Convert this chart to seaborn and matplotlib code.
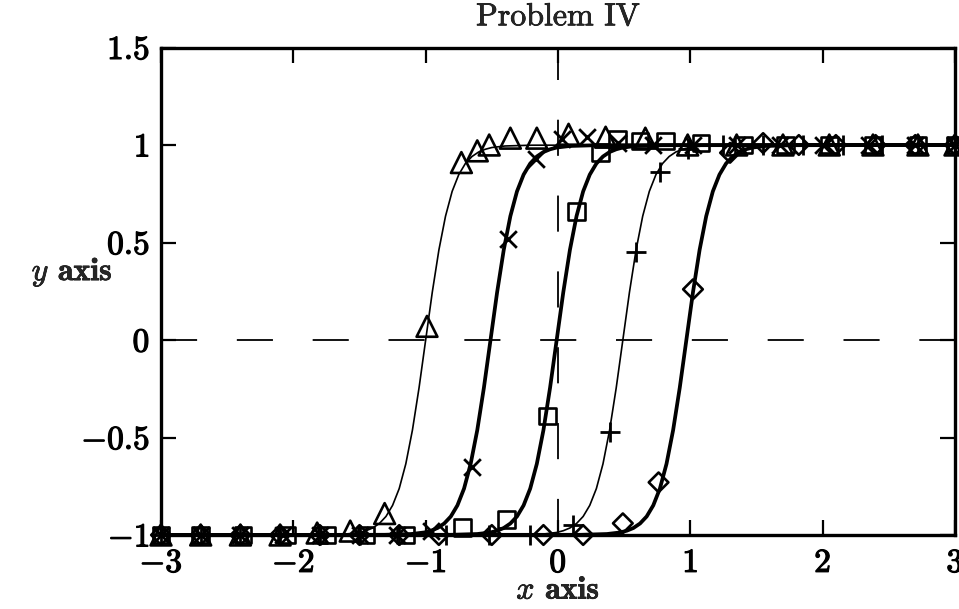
import matplotlib
matplotlib.use("Agg")
import matplotlib.pyplot as plt
import matplotlib.patheffects as pe
import pandas as pd
import seaborn as sns

# Exact-solution profile values shared by every front (y at each curve x below)
curve_y = [-1, -0.999, -0.995, -0.987, -0.978, -0.964, -0.941, -0.905, -0.848,
           -0.762, -0.635, -0.462, -0.245, 0, 0.245, 0.462, 0.635, 0.762,
           0.848, 0.905, 0.941, 0.964, 0.978, 0.987, 0.995, 0.999, 1]

# Curve abscissae for each front
tri_curve_x = [-3, -1.8, -1.6, -1.5, -1.45, -1.4, -1.35, -1.3, -1.25, -1.2, -1.15,
               -1.1, -1.05, -1.0, -0.95, -0.9, -0.85, -0.8, -0.75, -0.7, -0.65,
               -0.6, -0.55, -0.5, -0.4, -0.2, 3]
x_curve_x = [-3, -1.31, -1.11, -1.01, -0.96, -0.91, -0.86, -0.81, -0.76, -0.71,
             -0.66, -0.61, -0.56, -0.51, -0.46, -0.41, -0.36, -0.31, -0.26, -0.21,
             -0.16, -0.11, -0.06, -0.01, 0.09, 0.29, 3]
sq_curve_x = [-3, -0.81, -0.61, -0.51, -0.46, -0.41, -0.36, -0.31, -0.26, -0.21,
              -0.16, -0.11, -0.06, -0.01, 0.04, 0.09, 0.14, 0.19, 0.24, 0.29,
              0.34, 0.39, 0.44, 0.49, 0.59, 0.79, 3]
plus_curve_x = [-3, -0.31, -0.11, -0.01, 0.04, 0.09, 0.14, 0.19, 0.24, 0.29, 0.34,
                0.39, 0.44, 0.49, 0.54, 0.59, 0.64, 0.69, 0.74, 0.79, 0.84, 0.89,
                0.94, 0.99, 1.09, 1.29, 3]
dia_curve_x = [-3, 0.17, 0.37, 0.47, 0.52, 0.57, 0.62, 0.67, 0.72, 0.77, 0.82,
               0.87, 0.92, 0.97, 1.02, 1.07, 1.12, 1.17, 1.22, 1.27, 1.32, 1.37,
               1.42, 1.47, 1.57, 1.77, 3]

# Numerical solution nodes for each front
tri_x = [-3.0, -2.7, -2.4, -2.1, -1.82, -1.57, -1.31, -0.99, -0.73, -0.61, -0.52,
         -0.36, -0.16, 0.08, 0.36, 0.66, 0.98, 1.35, 1.7, 2.05, 2.38, 2.72, 3.0]
tri_y = [-1.0, -1.0, -1.0, -1.0, -0.99, -0.98, -0.89, 0.07, 0.91, 0.97, 1.0,
         1.035, 1.035, 1.055, 1.04, 1.035, 1.0, 1.0, 1.0, 1.0, 1.0, 1.0, 1.0]

x_x = [-3.0, -2.7, -2.4, -2.08, -1.8, -1.5, -1.22, -0.96, -0.65, -0.38, -0.17,
       0.03, 0.22, 0.45, 0.72, 1.02, 1.35, 1.68, 2.0, 2.35, 2.7, 3.0]
x_y = [-1.0, -1.0, -1.0, -1.0, -1.0, -1.0, -1.0, -0.98, -0.65, 0.52, 0.93,
       1.03, 1.04, 1.01, 1.0, 1.0, 1.0, 1.0, 1.0, 1.0, 1.0, 1.0]

sq_x = [-3.0, -2.7, -2.38, -2.05, -1.75, -1.45, -1.15, -0.72, -0.39, -0.08, 0.14,
        0.32, 0.45, 0.62, 0.81, 1.08, 1.4, 1.72, 2.05, 2.38, 2.72, 3.0]
sq_y = [-1.0, -1.0, -1.0, -1.0, -1.0, -1.0, -1.0, -0.96, -0.92, -0.39, 0.66,
        0.96, 1.03, 1.02, 1.02, 1.01, 1.0, 1.0, 1.0, 1.0, 1.0, 1.0]

plus_x = [-3.0, -2.7, -2.4, -2.1, -1.8, -1.5, -1.2, -0.85, -0.52, -0.21, 0.11,
          0.39, 0.59, 0.77, 0.98, 1.25, 1.55, 1.85, 2.15, 2.45, 2.72, 3.0]
plus_y = [-1.0, -1.0, -1.0, -1.0, -1.0, -1.0, -1.0, -1.0, -1.0, -1.0, -0.95,
          -0.47, 0.45, 0.86, 0.98, 1.0, 1.0, 1.0, 1.0, 1.0, 1.0, 1.0]

dia_x = [-3.0, -2.7, -2.4, -2.1, -1.8, -1.5, -1.2, -0.9, -0.5, -0.11, 0.19,
         0.49, 0.76, 1.02, 1.3, 1.55, 1.82, 2.1, 2.4, 2.7, 3.0]
dia_y = [-1.0, -1.0, -1.0, -1.0, -1.0, -1.0, -1.0, -1.0, -1.0, -1.0, -1.0,
         -0.94, -0.73, 0.26, 0.96, 1.01, 1.0, 1.0, 1.0, 1.0, 1.0]

x_ticks = [-3, -2, -1, 0, 1, 2, 3]
x_tick_labels = ["$-3$", "$-2$", "$-1$", "$0$", "$1$", "$2$", "$3$"]
y_ticks = [-1, -0.5, 0, 0.5, 1, 1.5]
y_tick_labels = ["$-1$", "$-0.5$", "$0$", "$0.5$", "$1$", "$1.5$"]

sns.set_style("ticks")
plt.rcParams["font.family"] = ["cmr10", "DejaVu Serif"]
plt.rcParams["mathtext.fontset"] = "cm"
plt.rcParams["axes.unicode_minus"] = False

fig = plt.figure(figsize=(9.59, 6.09), dpi=100)
ax = fig.add_axes([161 / 959, 74 / 609, 794 / 959, 487.5 / 609])

# reference axes through the origin
ax.axhline(0, color="black", lw=1.3, dashes=(20, 22), zorder=1)
ax.axvline(0, color="black", lw=1.3, dashes=(20, 22), zorder=1)

series = [
    (tri_curve_x, tri_x, tri_y, "^", 15, 1.2, True),
    (x_curve_x, x_x, x_y, "x", 12, 2.7, False),
    (sq_curve_x, sq_x, sq_y, "s", 12, 2.7, True),
    (plus_curve_x, plus_x, plus_y, "+", 14, 1.2, False),
    (dia_curve_x, dia_x, dia_y, "D", 10, 2.7, True),
]

for cx, mx, my, mk, ms, lw, hollow in series:
    curve = pd.DataFrame({"x": cx, "y": curve_y})
    sns.lineplot(data=curve, x="x", y="y", ax=ax, color="black", lw=lw,
                 sort=False, estimator=None, zorder=3)
    nodes = pd.DataFrame({"x": mx, "y": my})
    if hollow:
        sns.scatterplot(data=nodes, x="x", y="y", ax=ax, marker=mk, s=ms ** 2,
                        facecolors="none", edgecolor="black", linewidth=1.9,
                        zorder=4, clip_on=False)
    else:
        sns.scatterplot(data=nodes, x="x", y="y", ax=ax, marker=mk, s=ms ** 2,
                        color="black", linewidth=2.0, zorder=4, clip_on=False)

ax.set_xlim(-3, 3)
ax.set_ylim(-1, 1.5)
ax.set_xticks(x_ticks)
ax.set_xticklabels(x_tick_labels)
ax.set_yticks(y_ticks)
ax.set_yticklabels(y_tick_labels)
ax.tick_params(axis="x", pad=10)
ax.tick_params(direction="in", length=11, width=1.6, top=True, right=True,
               labelsize=24, colors="black")
ax.tick_params(axis="y", pad=8)

for sp in ax.spines.values():
    sp.set_visible(True)
    sp.set_linewidth(2.4)
    sp.set_color("black")

ax.set_title("Problem IV", fontsize=23, pad=16)
ax.set_xlabel(r"$x$ $\mathbf{axis}$", fontsize=23, va="center")
ax.set_ylabel(r"$y$ $\mathbf{axis}$", fontsize=23, rotation=0,
              ha="center", va="center")
ax.xaxis.set_label_coords(0.5, -0.115)
ax.yaxis.set_label_coords(-0.112, 0.54)

# heavier strokes on the lettering
stroke = [pe.withStroke(linewidth=0.9, foreground="black")]
for t in ax.get_xticklabels() + ax.get_yticklabels():
    t.set_path_effects(stroke)
for t in (ax.title, ax.xaxis.label, ax.yaxis.label):
    t.set_path_effects([pe.withStroke(linewidth=0.5, foreground="black")])

fig.savefig("out.png", dpi=100)
